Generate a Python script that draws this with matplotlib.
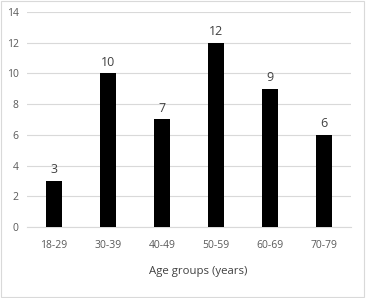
import numpy as np
import matplotlib
matplotlib.use("Agg")
import matplotlib.pyplot as plt
from matplotlib.patches import Rectangle

plt.rcParams['font.family'] = ['Open Sans', 'DejaVu Sans']

groups = ["18-29", "30-39", "40-49", "50-59", "60-69", "70-79"]
counts = [3, 10, 7, 12, 9, 6]

fig = plt.figure(figsize=(3.66, 2.98), dpi=100)
ax = fig.add_axes([0.074, 0.238, 0.885, 0.722])

x = np.arange(len(groups))
bars = ax.bar(x, counts, width=0.31, color="black", zorder=3)
for xi, c in zip(x, counts):
    ax.text(xi, c + 0.3, str(c), ha="center", va="bottom", fontsize=9, color="#404040")

ax.set_xlim(-0.5, len(groups) - 0.5)
ax.set_ylim(0, 14)
ax.set_yticks(range(0, 15, 2))
ax.set_xticks(x)
ax.set_xticklabels(groups)
ax.tick_params(axis="both", length=0, labelsize=7.5, labelcolor="#595959")
ax.tick_params(axis="x", pad=9)
ax.tick_params(axis="y", pad=6)
ax.grid(axis="y", color="#d9d9d9", linewidth=0.8, zorder=0)
for s in ["top", "right", "left"]:
    ax.spines[s].set_visible(False)
ax.spines["bottom"].set_color("#d9d9d9")
ax.set_xlabel("Age groups (years)", fontsize=8.2, color="#404040")
ax.xaxis.set_label_coords(0.528, -0.18)

fig.patches.append(Rectangle((0.004, 0.005), 0.99, 0.99, transform=fig.transFigure,
                             fill=False, edgecolor="#d9d9d9", linewidth=0.8))

plt.savefig("out.png", dpi=100)
